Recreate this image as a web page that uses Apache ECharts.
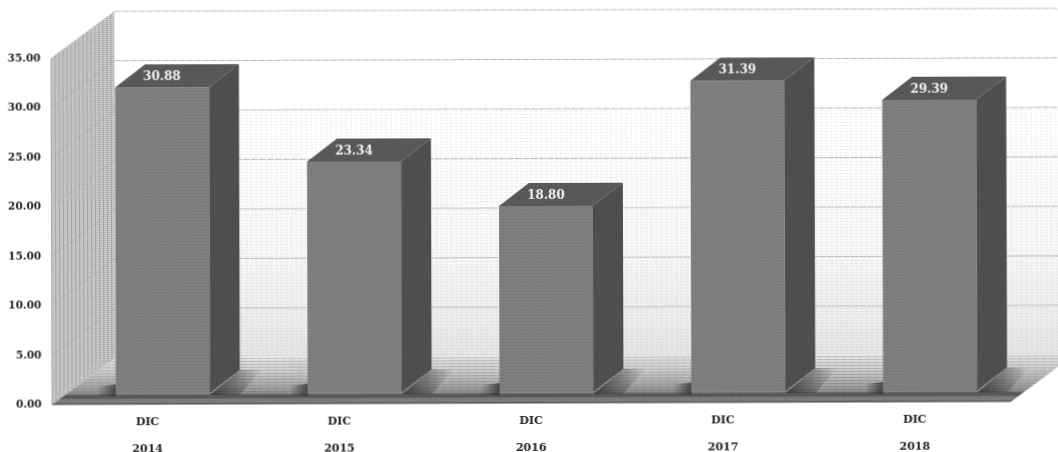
<!DOCTYPE html>
<html>
<head>
<meta charset="utf-8">
<style>
  html, body { margin: 0; padding: 0; background: #fff; overflow: hidden; }
  #chart { width: 1058px; height: 452px; transform: rotate(-0.18deg); }
</style>
<script src="https://cdn.jsdelivr.net/npm/echarts@6/dist/echarts.min.js"></script>
</head>
<body>
<div id="chart"></div>
<script>
// Chart data
const months = ['DIC', 'DIC', 'DIC', 'DIC', 'DIC'];
const years = ['2014', '2015', '2016', '2017', '2018'];
const values = [30.88, 23.34, 18.80, 31.39, 29.39];
const yTicks = [0, 5, 10, 15, 20, 25, 30, 35];

// Depth of the 3D box and of each column, in pixels
const WALL_DX = 64, WALL_DY = 47;
const BAR_DX = 30, BAR_DY = 23;
const INSET_DX = 15.5, INSET_DY = 11.5;
const BAR_RATIO = 0.49;

// Horizontal scan-line texture laid over the painted surfaces
function scanlines(rgba, gap, dash, hole) {
  const c = document.createElement('canvas');
  c.width = dash + hole; c.height = gap;
  const g = c.getContext('2d');
  g.fillStyle = rgba;
  g.fillRect(0, 0, dash, 1);
  return { image: c, repeat: 'repeat' };
}
const wallTexture = scanlines('rgba(255,255,255,0.62)', 2, 3, 1);
const backTexture = scanlines('rgba(150,150,150,0.16)', 3, 3, 2);
const floorTexture = scanlines('rgba(60,60,60,0.22)', 3, 7, 1);
const barTexture = scanlines('rgba(40,40,40,0.08)', 3, 4, 1);

function vertical(stops) {
  return { type: 'linear', x: 0, y: 0, x2: 0, y2: 1,
    colorStops: stops.map(s => ({ offset: s[0], color: s[1] })) };
}
function horizontal(stops) {
  return { type: 'linear', x: 0, y: 0, x2: 1, y2: 0,
    colorStops: stops.map(s => ({ offset: s[0], color: s[1] })) };
}
function poly(points, fill) {
  return { type: 'polygon', shape: { points }, style: { fill }, silent: true };
}

// Back wall, side wall, floor and their gridlines
function renderBox(params, api) {
  const n = years.length;
  const halfBand = api.size([1, 0])[0] / 2;
  const y0 = api.coord([0, 0])[1];
  const yTop = api.coord([0, yTicks[yTicks.length - 1]])[1];
  const xL = api.coord([0, 0])[0] - halfBand;
  const xR = api.coord([n - 1, 0])[0] + halfBand;
  const kids = [];

  const backPts = [[xL + WALL_DX, yTop - WALL_DY], [xR + WALL_DX, yTop - WALL_DY],
                   [xR + WALL_DX, y0 - WALL_DY], [xL + WALL_DX, y0 - WALL_DY]];
  kids.push(poly(backPts, vertical([[0, '#ffffff'], [0.35, '#ffffff'], [0.7, '#f7f7f7'], [0.9, '#ececec'], [1, '#e4e4e4']])));
  kids.push(poly([[xL + WALL_DX, yTop - WALL_DY + 100], [xR + WALL_DX, yTop - WALL_DY + 100],
                  [xR + WALL_DX, y0 - WALL_DY], [xL + WALL_DX, y0 - WALL_DY]], backTexture));

  yTicks.forEach(t => {
    if (t === 0) return;
    const y = api.coord([0, t])[1];
    kids.push({ type: 'line', silent: true,
      shape: { x1: xL + WALL_DX, y1: y - WALL_DY, x2: xR + WALL_DX, y2: y - WALL_DY },
      style: { stroke: '#bcbcbc', lineWidth: 1, lineDash: [7, 1] } });
  });

  const sidePts = [[xL, y0], [xL, yTop], [xL + WALL_DX, yTop - WALL_DY], [xL + WALL_DX, y0 - WALL_DY]];
  kids.push(poly(sidePts, '#a9a9a9'));
  kids.push(poly(sidePts, wallTexture));
  yTicks.forEach(t => {
    if (t === 0 || t === yTicks[yTicks.length - 1]) return;
    const y = api.coord([0, t])[1];
    kids.push({ type: 'line', silent: true,
      shape: { x1: xL, y1: y, x2: xL + WALL_DX, y2: y - WALL_DY },
      style: { stroke: '#a0a0a0', lineWidth: 1, opacity: 0.55 } });
  });

  const floorPts = [[xL, y0], [xL + WALL_DX, y0 - WALL_DY], [xR + WALL_DX, y0 - WALL_DY], [xR, y0]];
  kids.push(poly(floorPts, vertical([[0, '#e2e2e2'], [0.3, '#cccccc'], [0.6, '#a8a8a8'], [0.76, '#8e8e8e'],
    [0.82, '#505050'], [0.87, '#6a6a6a'], [0.92, '#8a8a8a'], [1, '#585858']])));
  kids.push(poly(floorPts, floorTexture));
  return { type: 'group', children: kids };
}

// One column: cast shadow, three faces and the value on its top face
function renderBar(params, api) {
  const i = api.value(0), v = api.value(1);
  const base = api.coord([i, 0]), top = api.coord([i, v]);
  const w = api.size([1, 0])[0] * BAR_RATIO;
  const cx = base[0] + INSET_DX;
  const l = cx - w / 2, r = cx + w / 2;
  const by = base[1] - INSET_DY, ty = top[1] - INSET_DY;

  const front = [[l, ty], [r, ty], [r, by], [l, by]];
  const side = [[r, ty], [r + BAR_DX, ty - BAR_DY], [r + BAR_DX, by - BAR_DY], [r, by]];
  const cap = [[l, ty], [l + BAR_DX, ty - BAR_DY], [r + BAR_DX, ty - BAR_DY], [r, ty]];

  return { type: 'group', children: [
    poly([[r, by + 2], [r + BAR_DX, by - BAR_DY], [r + BAR_DX + 22, by - BAR_DY], [r + 30, by + 2]],
      horizontal([[0, 'rgba(45,45,45,0.8)'], [0.45, 'rgba(45,45,45,0.45)'], [1, 'rgba(45,45,45,0)']])),
    poly([[l - 18, by - 7], [l, by - 9], [l, by + 3], [l - 18, by + 3]],
      horizontal([[0, 'rgba(40,40,40,0)'], [1, 'rgba(40,40,40,0.75)']])),
    poly(front, '#7f7f7f'), poly(front, barTexture),
    poly(side, '#4f4f4f'), poly(side, barTexture),
    poly(cap, '#595959'), poly(cap, barTexture),
    { type: 'text', silent: true, z2: 5, style: {
        text: v.toFixed(2), x: cx, y: ty - 10,
        textAlign: 'center', textVerticalAlign: 'middle',
        font: 'bold 12px "DejaVu Serif"', fill: '#f0f0f0' } }
  ] };
}

const chart = echarts.init(document.getElementById('chart'), null, { renderer: 'canvas' });
chart.setOption({
  animation: false,
  backgroundColor: '#ffffff',
  grid: { left: 51, right: 48, top: 57, bottom: 48.5, outerBoundsMode: 'none' },
  xAxis: {
    type: 'category',
    data: years.map((y, i) => months[i] + '\n' + y),
    axisLine: { show: false },
    axisTick: { show: false },
    axisLabel: {
      margin: 4, lineHeight: 27, interval: 0,
      fontFamily: 'DejaVu Serif', fontWeight: 'bold', fontSize: 11, color: '#222222'
    }
  },
  yAxis: {
    type: 'value', min: 0, max: 35, interval: 5,
    axisLine: { show: false },
    axisTick: { show: false },
    splitLine: { show: false },
    axisLabel: {
      margin: 10, formatter: v => v.toFixed(2),
      fontFamily: 'DejaVu Serif', fontWeight: 'bold', fontSize: 10.5, color: '#222222'
    }
  },
  series: [
    { type: 'custom', z: 1, silent: true, data: [[0, 0]], renderItem: renderBox,
      encode: { x: 0, y: 1 }, clip: false },
    { type: 'custom', z: 2, silent: true, data: values.map((v, i) => [i, v]), renderItem: renderBar,
      encode: { x: 0, y: 1 }, clip: false }
  ]
});
</script>
</body>
</html>
